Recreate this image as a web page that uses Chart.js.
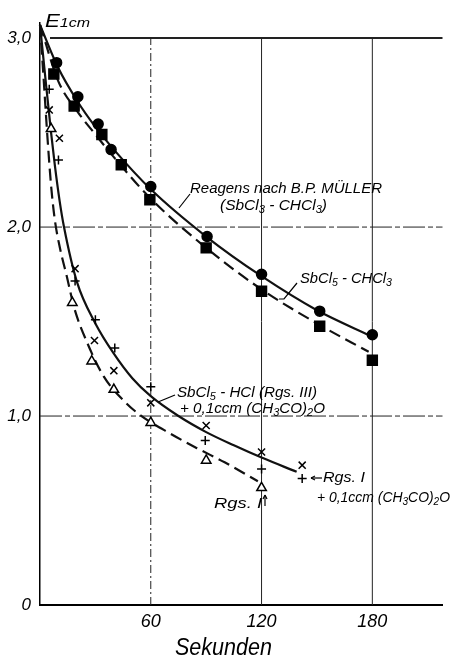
<!DOCTYPE html>
<html>
<head>
<meta charset="utf-8">
<script src="https://cdn.jsdelivr.net/npm/chart.js@4.4.0/dist/chart.umd.min.js"></script>
<style>
html, body { margin: 0; padding: 0; background: #fff; }
#wrap { width: 451px; height: 659px; position: relative; }
</style>
</head>
<body>
<div id="wrap"><canvas id="c"></canvas></div>
<script>
// measured points (seconds, E1cm)
// Reagens nach B.P. Mueller (SbCl3-CHCl3), filled circles
var muellerX = [9, 20.5, 31.5, 38.5, 60, 90.5, 120, 151.5, 180];
var muellerY = [2.87, 2.69, 2.545, 2.41, 2.215, 1.95, 1.75, 1.555, 1.43];
// SbCl5-CHCl3, filled squares
var sbcl5X = [7.5, 18.5, 33.5, 44, 59.5, 90, 120, 151.5, 180];
var sbcl5Y = [2.81, 2.64, 2.49, 2.33, 2.145, 1.89, 1.66, 1.475, 1.295];
// SbCl5-HCl (Rgs. III) + 0,1 ccm (CH3CO)2O, crosses
var rgs3X = [5, 10.5, 19, 29.5, 40, 60, 90, 120, 142];
var rgs3Y = [2.62, 2.47, 1.78, 1.40, 1.24, 1.07, 0.95, 0.81, 0.74];
// Rgs. I + 0,1 ccm (CH3CO)2O, plus signs
var rgs1acX = [5, 10, 19, 30, 40.5, 60, 89.5, 120, 142];
var rgs1acY = [2.73, 2.355, 1.715, 1.51, 1.36, 1.155, 0.87, 0.72, 0.67];
// Rgs. I, open triangles
var rgs1X = [6, 17.5, 28, 40, 60, 90, 120];
var rgs1Y = [2.52, 1.60, 1.29, 1.14, 0.965, 0.765, 0.62];

// drawn (fitted) curves
var curveMuellerX = [0, 10, 20, 30, 40, 60, 90, 120, 150, 180];
var curveMuellerY = [3.07, 2.84, 2.67, 2.53, 2.41, 2.2, 1.95, 1.74, 1.56, 1.42];
var curveSbcl5X = [0, 10, 20, 30, 40, 60, 90, 120, 150, 178];
var curveSbcl5Y = [3.07, 2.77, 2.615, 2.49, 2.37, 2.15, 1.89, 1.67, 1.49, 1.34];
var curveSolidX = [0, 3, 6, 8, 10.6, 13, 20, 30, 40, 50, 60, 75, 90, 105, 120, 139];
var curveSolidY = [3.07, 2.78, 2.50, 2.33, 2.14, 2.0, 1.71, 1.49, 1.33, 1.20, 1.105, 1.0, 0.915, 0.845, 0.78, 0.705];
var curveDashX = [0, 2, 4, 6, 8, 11, 14.5, 18.6, 25.7, 34.5, 47, 55, 70, 85, 100, 118];
var curveDashY = [3.07, 2.78, 2.48, 2.22, 2.04, 1.88, 1.74, 1.57, 1.385, 1.21, 1.065, 1.0, 0.91, 0.83, 0.755, 0.655];

var xTicks = [0, 60, 120, 180];
var yTicks = [0, 1, 2, 3];

function pts(xs, ys) {
	var out = [];
	for (var i = 0; i < xs.length; i++) out.push({x: xs[i], y: ys[i]});
	return out;
}

var FONT = "'Liberation Sans', 'DejaVu Sans', sans-serif";

function marker(data, style, r, fill) {
	return {
		data: data, showLine: false, pointStyle: style, pointRadius: r,
		pointBackgroundColor: fill, pointBorderColor: '#000', pointBorderWidth: 1.5,
		pointHoverRadius: r
	};
}
function curve(data, dash) {
	return {
		data: data, showLine: true, pointRadius: 0, borderColor: '#111',
		borderWidth: 2.2, borderDash: dash, cubicInterpolationMode: 'monotone', fill: false
	};
}

// rich text: segments [text, isSub], squeezed into x0..x1
function rich(ctx, segs, x0, x1, base, size, drop) {
	var w = 0, i;
	for (i = 0; i < segs.length; i++) {
		ctx.font = 'italic ' + (segs[i][1] ? size * 0.72 : size) + 'px ' + FONT;
		w += ctx.measureText(segs[i][0]).width;
	}
	var sx = (x1 - x0) / w;
	ctx.save();
	ctx.translate(x0, base);
	ctx.scale(sx, 1);
	ctx.fillStyle = '#000';
	ctx.textBaseline = 'alphabetic';
	ctx.textAlign = 'left';
	var x = 0;
	for (i = 0; i < segs.length; i++) {
		var sub = segs[i][1];
		ctx.font = 'italic ' + (sub ? size * 0.72 : size) + 'px ' + FONT;
		ctx.fillText(segs[i][0], x, sub ? drop : 0);
		x += ctx.measureText(segs[i][0]).width;
	}
	ctx.restore();
}

function line(ctx, p, w) {
	ctx.beginPath();
	ctx.moveTo(p[0], p[1]);
	for (var i = 2; i < p.length; i += 2) ctx.lineTo(p[i], p[i + 1]);
	ctx.lineWidth = w || 1.2;
	ctx.strokeStyle = '#000';
	ctx.stroke();
}

var gridPlugin = {
	id: 'grid',
	beforeDatasetsDraw: function(chart) {
		var ctx = chart.ctx, xs = chart.scales.x, ys = chart.scales.y;
		var x0 = xs.getPixelForValue(0), x1 = chart.chartArea.right;
		ctx.save();
		ctx.strokeStyle = '#222';
		// horizontal
		[1, 2].forEach(function(v) {
			var y = ys.getPixelForValue(v);
			ctx.setLineDash([22, 3, 5, 3]);
			ctx.lineWidth = 1;
			ctx.beginPath(); ctx.moveTo(x0, y); ctx.lineTo(x1, y); ctx.stroke();
		});
		var y3 = ys.getPixelForValue(3);
		ctx.setLineDash([]);
		ctx.lineWidth = 2;
		ctx.beginPath(); ctx.moveTo(x0 + 10, y3); ctx.lineTo(x1, y3); ctx.stroke();
		// vertical
		[60, 120, 180].forEach(function(v) {
			var x = xs.getPixelForValue(v);
			ctx.setLineDash(v === 60 ? [8, 3, 2, 3] : []);
			ctx.lineWidth = 1;
			ctx.beginPath(); ctx.moveTo(x, ys.getPixelForValue(0)); ctx.lineTo(x, y3); ctx.stroke();
		});
		ctx.restore();
	}
};

var labelPlugin = {
	id: 'labels',
	afterDraw: function(chart) {
		var ctx = chart.ctx;
		rich(ctx, [['E', 0], ['1cm', 1]], 45, 90, 27, 19, 0);
		rich(ctx, [['Reagens nach B.P. MÜLLER', 0]], 190, 382, 193, 15, 3);
		rich(ctx, [['(SbCl', 0], ['3', 1], [' - CHCl', 0], ['3', 1], [')', 0]], 220, 327, 210, 15, 3);
		rich(ctx, [['SbCl', 0], ['5', 1], [' - CHCl', 0], ['3', 1]], 300, 392, 283, 15, 3);
		rich(ctx, [['SbCl', 0], ['5', 1], [' - HCl (Rgs. III)', 0]], 177, 317, 397, 15, 3);
		rich(ctx, [['+ 0,1ccm (CH', 0], ['3', 1], ['CO)', 0], ['2', 1], ['O', 0]], 180, 325, 413, 14, 3);
		rich(ctx, [['Rgs. I', 0]], 323, 365, 482, 15, 3);
		rich(ctx, [['+ 0,1ccm (CH', 0], ['3', 1], ['CO)', 0], ['2', 1], ['O', 0]], 317, 450, 502, 14, 3);
		rich(ctx, [['Rgs. I', 0]], 214, 262, 508, 15, 3);
		rich(ctx, [['Sekunden', 0]], 175, 272, 655, 23, 0);
		// leader lines
		line(ctx, [190, 194, 179, 208]);
		line(ctx, [297, 283, 284, 299, 279, 299]);
		line(ctx, [175, 395, 158, 402]);
		line(ctx, [322, 478, 311, 478]);
		line(ctx, [311, 478, 315, 476]);
		line(ctx, [311, 478, 315, 480]);
		line(ctx, [265, 506, 265, 495]);
		line(ctx, [265, 495, 263, 499]);
		line(ctx, [265, 495, 267, 499]);
	}
};

new Chart(document.getElementById('c'), {
	type: 'scatter',
	data: {
		datasets: [
			marker(pts(muellerX, muellerY), 'circle', 5, '#000'),
			marker(pts(sbcl5X, sbcl5Y), 'rect', 7, '#000'),
			marker(pts(rgs3X, rgs3Y), 'crossRot', 5, '#000'),
			marker(pts(rgs1acX, rgs1acY), 'cross', 4.5, '#000'),
			marker(pts(rgs1X, rgs1Y), 'triangle', 5.5, '#fff'),
			curve(pts(curveMuellerX, curveMuellerY), []),
			curve(pts(curveSbcl5X, curveSbcl5Y), [12, 6]),
			curve(pts(curveSolidX, curveSolidY), []),
			curve(pts(curveDashX, curveDashY), [12, 6])
		]
	},
	options: {
		responsive: true,
		maintainAspectRatio: false,
		animation: false,
		clip: false,
		layout: { padding: { top: 23, right: 0, left: 0, bottom: 0 } },
		plugins: { legend: { display: false }, tooltip: { enabled: false } },
		scales: {
			x: {
				type: 'linear', min: 0, max: 218,
				afterBuildTicks: function(s) { s.ticks = xTicks.map(function(v) { return {value: v}; }); },
				afterFit: function(s) { s.height = 54; },
				grid: { display: true, drawOnChartArea: false, drawTicks: false },
				border: { display: true, color: '#000', width: 2 },
				ticks: {
					color: '#000', padding: 6, maxRotation: 0,
					font: { family: FONT, size: 18, style: 'italic' },
					callback: function(v) { return v === 0 ? '' : String(v); }
				}
			},
			y: {
				type: 'linear', min: 0, max: 3.08,
				afterBuildTicks: function(s) { s.ticks = yTicks.map(function(v) { return {value: v}; }); },
				afterFit: function(s) { s.width = 40; },
				grid: { display: true, drawOnChartArea: false, drawTicks: false },
				border: { display: true, color: '#000', width: 1.5 },
				ticks: {
					color: '#000', padding: 9,
					font: { family: FONT, size: 17, style: 'italic' },
					callback: function(v) { return v === 0 ? '0' : v.toFixed(1).replace('.', ','); }
				}
			}
		}
	},
	plugins: [gridPlugin, labelPlugin]
});
</script>
</body>
</html>
